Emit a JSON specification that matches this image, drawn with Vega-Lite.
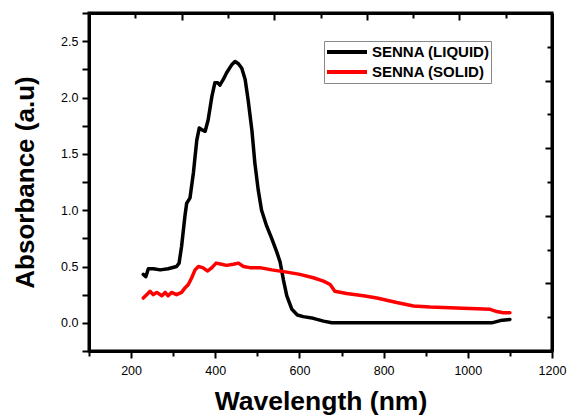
{
  "$schema": "https://vega.github.io/schema/vega-lite/v6.json",
  "width": 463,
  "height": 338,
  "autosize": "none",
  "padding": {"left": 89, "top": 13, "right": 15, "bottom": 64},
  "background": "white",
  "config": {"view": {"stroke": "black", "strokeWidth": 3}, "font": "Liberation Sans"},
  "data": {"values": [
    {"s": "SENNA (LIQUID)", "w": 229, "a": 0.43},
    {"s": "SENNA (LIQUID)", "w": 235, "a": 0.41},
    {"s": "SENNA (LIQUID)", "w": 241, "a": 0.48},
    {"s": "SENNA (LIQUID)", "w": 253, "a": 0.48},
    {"s": "SENNA (LIQUID)", "w": 269, "a": 0.47},
    {"s": "SENNA (LIQUID)", "w": 288, "a": 0.48},
    {"s": "SENNA (LIQUID)", "w": 308, "a": 0.5},
    {"s": "SENNA (LIQUID)", "w": 314, "a": 0.53},
    {"s": "SENNA (LIQUID)", "w": 320, "a": 0.68},
    {"s": "SENNA (LIQUID)", "w": 328, "a": 0.95},
    {"s": "SENNA (LIQUID)", "w": 332, "a": 1.06},
    {"s": "SENNA (LIQUID)", "w": 340, "a": 1.11},
    {"s": "SENNA (LIQUID)", "w": 348, "a": 1.33},
    {"s": "SENNA (LIQUID)", "w": 356, "a": 1.62},
    {"s": "SENNA (LIQUID)", "w": 362, "a": 1.73},
    {"s": "SENNA (LIQUID)", "w": 370, "a": 1.71},
    {"s": "SENNA (LIQUID)", "w": 376, "a": 1.7},
    {"s": "SENNA (LIQUID)", "w": 383, "a": 1.8},
    {"s": "SENNA (LIQUID)", "w": 392, "a": 2.01},
    {"s": "SENNA (LIQUID)", "w": 399, "a": 2.13},
    {"s": "SENNA (LIQUID)", "w": 406, "a": 2.13},
    {"s": "SENNA (LIQUID)", "w": 411, "a": 2.11},
    {"s": "SENNA (LIQUID)", "w": 419, "a": 2.16},
    {"s": "SENNA (LIQUID)", "w": 427, "a": 2.22},
    {"s": "SENNA (LIQUID)", "w": 439, "a": 2.29},
    {"s": "SENNA (LIQUID)", "w": 447, "a": 2.32},
    {"s": "SENNA (LIQUID)", "w": 455, "a": 2.3},
    {"s": "SENNA (LIQUID)", "w": 463, "a": 2.26},
    {"s": "SENNA (LIQUID)", "w": 471, "a": 2.16},
    {"s": "SENNA (LIQUID)", "w": 478, "a": 1.98},
    {"s": "SENNA (LIQUID)", "w": 487, "a": 1.71},
    {"s": "SENNA (LIQUID)", "w": 494, "a": 1.42},
    {"s": "SENNA (LIQUID)", "w": 502, "a": 1.18},
    {"s": "SENNA (LIQUID)", "w": 510, "a": 1.0},
    {"s": "SENNA (LIQUID)", "w": 522, "a": 0.86},
    {"s": "SENNA (LIQUID)", "w": 534, "a": 0.75},
    {"s": "SENNA (LIQUID)", "w": 546, "a": 0.63},
    {"s": "SENNA (LIQUID)", "w": 554, "a": 0.54},
    {"s": "SENNA (LIQUID)", "w": 562, "a": 0.38},
    {"s": "SENNA (LIQUID)", "w": 570, "a": 0.24},
    {"s": "SENNA (LIQUID)", "w": 582, "a": 0.12},
    {"s": "SENNA (LIQUID)", "w": 595, "a": 0.07},
    {"s": "SENNA (LIQUID)", "w": 609, "a": 0.055},
    {"s": "SENNA (LIQUID)", "w": 633, "a": 0.04},
    {"s": "SENNA (LIQUID)", "w": 657, "a": 0.015},
    {"s": "SENNA (LIQUID)", "w": 677, "a": 0.0},
    {"s": "SENNA (LIQUID)", "w": 800, "a": 0.0},
    {"s": "SENNA (LIQUID)", "w": 950, "a": 0.0},
    {"s": "SENNA (LIQUID)", "w": 1057, "a": 0.0},
    {"s": "SENNA (LIQUID)", "w": 1077, "a": 0.02},
    {"s": "SENNA (LIQUID)", "w": 1100, "a": 0.03},
    {"s": "SENNA (SOLID)", "w": 229, "a": 0.22},
    {"s": "SENNA (SOLID)", "w": 237, "a": 0.25},
    {"s": "SENNA (SOLID)", "w": 245, "a": 0.28},
    {"s": "SENNA (SOLID)", "w": 253, "a": 0.25},
    {"s": "SENNA (SOLID)", "w": 261, "a": 0.27},
    {"s": "SENNA (SOLID)", "w": 273, "a": 0.24},
    {"s": "SENNA (SOLID)", "w": 281, "a": 0.27},
    {"s": "SENNA (SOLID)", "w": 288, "a": 0.24},
    {"s": "SENNA (SOLID)", "w": 296, "a": 0.27},
    {"s": "SENNA (SOLID)", "w": 308, "a": 0.25},
    {"s": "SENNA (SOLID)", "w": 320, "a": 0.27},
    {"s": "SENNA (SOLID)", "w": 328, "a": 0.31},
    {"s": "SENNA (SOLID)", "w": 336, "a": 0.34},
    {"s": "SENNA (SOLID)", "w": 344, "a": 0.4},
    {"s": "SENNA (SOLID)", "w": 352, "a": 0.47},
    {"s": "SENNA (SOLID)", "w": 360, "a": 0.5},
    {"s": "SENNA (SOLID)", "w": 370, "a": 0.49},
    {"s": "SENNA (SOLID)", "w": 382, "a": 0.46},
    {"s": "SENNA (SOLID)", "w": 392, "a": 0.49},
    {"s": "SENNA (SOLID)", "w": 402, "a": 0.53},
    {"s": "SENNA (SOLID)", "w": 415, "a": 0.52},
    {"s": "SENNA (SOLID)", "w": 427, "a": 0.51},
    {"s": "SENNA (SOLID)", "w": 443, "a": 0.52},
    {"s": "SENNA (SOLID)", "w": 455, "a": 0.53},
    {"s": "SENNA (SOLID)", "w": 467, "a": 0.5},
    {"s": "SENNA (SOLID)", "w": 482, "a": 0.49},
    {"s": "SENNA (SOLID)", "w": 506, "a": 0.49},
    {"s": "SENNA (SOLID)", "w": 534, "a": 0.47},
    {"s": "SENNA (SOLID)", "w": 570, "a": 0.45},
    {"s": "SENNA (SOLID)", "w": 601, "a": 0.43},
    {"s": "SENNA (SOLID)", "w": 633, "a": 0.4},
    {"s": "SENNA (SOLID)", "w": 657, "a": 0.37},
    {"s": "SENNA (SOLID)", "w": 673, "a": 0.34},
    {"s": "SENNA (SOLID)", "w": 684, "a": 0.28},
    {"s": "SENNA (SOLID)", "w": 712, "a": 0.26},
    {"s": "SENNA (SOLID)", "w": 752, "a": 0.24},
    {"s": "SENNA (SOLID)", "w": 784, "a": 0.22},
    {"s": "SENNA (SOLID)", "w": 831, "a": 0.18},
    {"s": "SENNA (SOLID)", "w": 871, "a": 0.15},
    {"s": "SENNA (SOLID)", "w": 910, "a": 0.14},
    {"s": "SENNA (SOLID)", "w": 989, "a": 0.13},
    {"s": "SENNA (SOLID)", "w": 1053, "a": 0.12},
    {"s": "SENNA (SOLID)", "w": 1069, "a": 0.1},
    {"s": "SENNA (SOLID)", "w": 1084, "a": 0.09},
    {"s": "SENNA (SOLID)", "w": 1100, "a": 0.09}
  ]},
  "layer": [
    {
      "mark": {"type": "line", "strokeWidth": 3.5, "strokeJoin": "round", "strokeCap": "round"},
      "encoding": {
        "x": {
          "field": "w", "type": "quantitative",
          "scale": {"domain": [100, 1200], "nice": false, "zero": false},
          "axis": {
            "orient": "bottom",
            "values": [100, 200, 300, 400, 500, 600, 700, 800, 900, 1000, 1100, 1200],
            "labelExpr": "datum.value % 200 === 0 ? datum.label : ''",
            "format": "d",
            "title": "Wavelength (nm)",
            "titleFont": "Liberation Sans", "titleFontSize": 26.5, "titleFontWeight": "bold", "titleColor": "black",
            "titlePadding": 12,
            "labelFont": "Liberation Sans", "labelFontSize": 12.5, "labelColor": "black", "labelPadding": 6,
            "labelOverlap": false, "labelFlush": false,
            "tickColor": "black", "tickWidth": 2,
            "tickSize": {"condition": {"test": "datum.value % 200 === 0", "value": 7}, "value": 5},
            "domainColor": "black", "domainWidth": 3, "grid": false
          }
        },
        "y": {
          "field": "a", "type": "quantitative",
          "scale": {"domain": [-0.25, 2.75], "nice": false, "zero": false},
          "axis": {
            "orient": "left",
            "values": [-0.25, 0, 0.25, 0.5, 0.75, 1, 1.25, 1.5, 1.75, 2, 2.25, 2.5, 2.75],
            "labelExpr": "abs(datum.value * 2 - round(datum.value * 2)) < 0.01 ? format(datum.value, '.1f') : ''",
            "title": "Absorbance (a.u)",
            "titleFont": "Liberation Sans", "titleFontSize": 26, "titleFontWeight": "bold", "titleColor": "black",
            "titlePadding": 22,
            "labelFont": "Liberation Sans", "labelFontSize": 12.5, "labelColor": "black", "labelPadding": 4,
            "labelOverlap": false, "labelFlush": false,
            "tickColor": "black", "tickWidth": 2, "tickSize": 7,
            "domainColor": "black", "domainWidth": 3, "grid": false
          }
        },
        "color": {
          "field": "s", "type": "nominal",
          "scale": {"domain": ["SENNA (LIQUID)", "SENNA (SOLID)"], "range": ["#000000", "#ff0000"]},
          "legend": {
            "orient": "none", "legendX": 235, "legendY": 28,
            "title": null,
            "symbolType": "stroke", "symbolSize": 1600, "symbolStrokeWidth": 4,
            "clipHeight": 20, "rowPadding": 0, "padding": 1,
            "strokeColor": "#888888", "fillColor": "white",
            "labelFont": "Liberation Sans", "labelFontWeight": "bold", "labelFontSize": 15,
            "labelColor": "black", "labelOffset": 3, "labelLimit": 300
          }
        }
      }
    },
    {
      "mark": {"type": "point", "opacity": 0},
      "encoding": {
        "x": {
          "field": "w", "type": "quantitative",
          "axis": {
            "orient": "top",
            "values": [210, 320, 430, 540, 650, 760, 870, 980, 1090],
            "labels": false, "title": null,
            "tickColor": "black", "tickWidth": 2,
            "tickSize": {"condition": {"test": "round((datum.value - 100) / 110) % 2 === 0", "value": -7}, "value": -5},
            "domainColor": "black", "domainWidth": 3, "grid": false
          }
        },
        "y": {
          "field": "a", "type": "quantitative",
          "axis": {
            "orient": "right",
            "values": [0.05, 0.35, 0.65, 0.95, 1.25, 1.55, 1.85, 2.15, 2.45],
            "labels": false, "title": null,
            "tickColor": "black", "tickWidth": 2,
            "tickSize": {"condition": {"test": "round((datum.value + 0.25) / 0.3) % 2 === 0", "value": -7}, "value": -5},
            "domainColor": "black", "domainWidth": 3, "grid": false
          }
        }
      }
    }
  ],
  "resolve": {"axis": {"x": "independent", "y": "independent"}}
}
